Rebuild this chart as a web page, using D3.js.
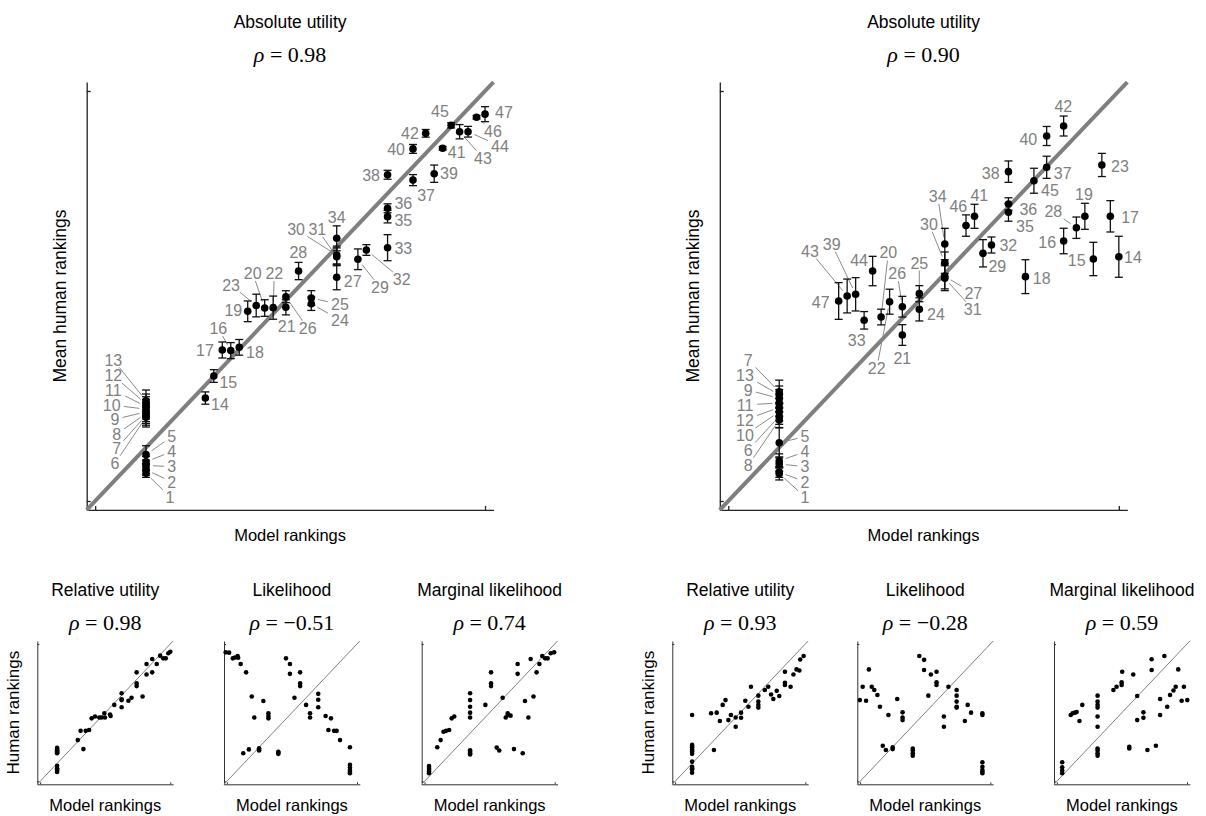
<!DOCTYPE html>
<html><head><meta charset="utf-8">
<script src="https://cdn.jsdelivr.net/npm/d3@7"></script>
<style>body{margin:0;background:#fff}</style>
</head><body>
<svg id="c" width="1206" height="816"></svg>
<script>
// ---------- DATA ----------
const bigTitles = ["Absolute utility", "Absolute utility"];
const bigRho = ["0.98", "0.90"];
const smallTitles = ["Relative utility", "Likelihood", "Marginal likelihood", "Relative utility", "Likelihood", "Marginal likelihood"];
const smallRho = ["0.98", "\u22120.51", "0.74", "0.93", "\u22120.28", "0.59"];
const tickVals = [1, 47];

// Experiment 1 (left): items 1..47
const leftModel = [7,7,7,7,7,7,7,7,7,7,7,7,7,14,15,17,16,18,19,21,23.5,22,20,26.5,26.5,23.5,29.5,25,32,29.5,29.5,33,35.5,29.5,35.5,35.5,38.5,35.5,41,38.5,42,40,44,45,43,46,47];
const leftHuman = [4.1,4.5,5.0,5.4,6.2,10.4,10.6,10.8,11.0,11.3,11.6,11.9,12.25,12.55,15.02,17.87,17.94,18.24,22.28,22.65,22.73,22.69,22.93,23.13,23.78,23.92,26.1,26.8,28.12,28.6,28.4,29.16,29.42,30.47,32.9,33.84,37.0,37.6,37.72,40.5,40.57,42.25,42.43,42.43,43.15,44.05,44.4];
const leftErr = [0.45,0.6,0.6,0.6,1.0,1.1,1.1,1.1,1.1,1.1,1.1,1.1,1.2,0.69,0.71,0.9,0.9,0.88,1.16,0.93,0.85,1.3,1.27,0.75,0.82,0.67,1.4,0.97,1.16,1.0,1.0,0.6,1.46,1.4,0.7,0.5,0.62,0.5,0.97,0.5,0.2,0.43,0.8,0.6,0.3,0.2,0.84];
// label anchor positions (in ranking units)
const leftLabelX = [9.83,10.03,10.03,10.03,10.03,3.34,3.54,3.54,3.34,2.95,3.14,3.14,3.14,15.73,16.71,15.53,13.96,19.86,17.3,19.59,23.6,22.14,17.03,29.89,29.89,26.08,31.39,24.97,34.61,24.7,27.21,37.17,37.36,29.5,37.36,37.36,40.04,33.55,42.75,36.5,43.66,38.15,46.76,48.76,41.69,47.94,49.24];
const leftLabelY = [1.45,3.15,4.85,6.53,8.21,5.23,6.91,8.52,10.17,11.77,13.45,15.06,16.82,11.88,14.32,20.37,17.94,17.64,22.35,26.55,20.55,26.55,25.23,21.3,23.05,20.37,25.6,28.86,24.97,31.48,31.48,25.87,29.35,32.83,32.53,34.4,35.33,37.5,37.72,40.46,40.08,42.25,39.48,40.83,44.68,42.51,44.64];
const leftLeaders = [1,2,3,4,5,6,7,8,9,10,11,12,13,16,20,22,23,24,25,26,29,30,31,32,43,44,46];

// Experiment 2 (right): items 1..47
const rightModel = [7,7,7,7,7,7,7,7,7,7,7,7,7,47,44,40.5,46,36,43,19,21.5,20,45,23.5,23.5,21.5,26.5,42,31,26.5,26.5,32,17,26.5,34,34,38.5,34,16,38.5,30,40.5,15,18,37,29,14];
const rightHuman = [4.06,4.25,5.15,5.49,7.54,10.5,13.26,10.1,12.5,11.0,12.0,11.5,12.9,28.4,28.15,30.17,32.94,26.17,32.94,21.64,19.62,23.36,38.7,22.5,24.26,22.8,26.2,31.66,28.79,27.74,26.0,29.72,21.27,29.83,33.39,34.32,38.44,37.95,24.19,41.95,32.94,43.07,24.0,26.8,36.93,31.9,23.44];
const rightErr = [0.7,0.6,0.8,0.8,1.7,0.9,1.3,0.9,1.0,1.0,1.0,1.0,1.0,2.3,1.87,1.43,1.76,1.9,1.46,0.88,1.16,1.4,1.3,1.3,0.9,1.16,1.4,1.2,1.53,1.2,1.4,0.9,0.98,1.76,1.0,0.7,1.24,1.2,1.87,1.07,1.35,1.12,1.9,1.65,1.4,1.2,2.06];
const rightLabelX = [10.04,10.04,10.04,10.04,10.04,3.36,3.36,3.36,3.36,2.97,2.97,2.97,2.97,48.67,42.04,38.57,48.32,37.92,42.9,19.85,21.5,18.48,47.14,25.46,23.5,20.9,29.86,39.28,32.69,24.64,29.79,33.98,16.12,25.67,35.95,36.34,40.39,31.91,13.18,36.34,30.57,40.46,10.62,16.4,38.89,28.09,11.88];
const rightLabelY = [1.45,3.15,4.85,6.53,8.21,6.72,16.82,5.0,13.45,8.4,11.77,10.09,15.14,28.37,28.04,30.02,32.86,25.98,35.44,28.86,17.01,15.89,38.58,21.95,27.73,26.55,24.3,33.46,27.36,32.08,22.51,29.64,19.06,35.22,31.77,33.73,37.76,37.76,29.83,41.61,35.3,45.32,29.05,28.04,35.81,34.02,23.25];
const rightLeaders = [1,2,3,4,5,6,7,8,9,10,11,12,13,20,22,25,26,27,28,30,31,34,39,43];

// Small panels: [model ranking, human ranking]
const relLeft = [[7,4.1],[7,4.5],[7,5.0],[7,5.4],[7,6.2],[7,10.4],[7,10.6],[7,10.8],[7,11.0],[7,11.3],[7,11.6],[7,11.9],[7,12.25],[16.3,11.8],[14.3,14.8],[15.3,17.9],[17.1,17.9],[18.3,18.2],[19.2,22.1],[20.4,22.7],[21.9,22.4],[22.7,22.4],[23.7,23.8],[23.9,22.4],[25.7,23.4],[25.9,22.9],[27.2,26.6],[29.8,30.5],[29.8,28.2],[29.8,28.5],[29.8,25.8],[32.2,28.0],[33.3,29.0],[35.1,37.5],[35.1,33.8],[35.1,32.9],[37.2,29.4],[38.6,40.3],[38.6,36.8],[40.6,42.0],[40.6,37.5],[42.2,40.3],[43.4,43.1],[44.5,42.2],[45.4,42.2],[46.3,43.9],[47,44.4]];
const likLeft = [[0.6,44.2],[1.8,44.1],[3.1,42.2],[3.9,42.5],[4.8,43.0],[5.0,42.4],[5.9,40.3],[7.8,37.5],[9.8,29.4],[10.7,22.4],[13.9,27.9],[15.7,23.8],[15.7,22.9],[15.7,22.1],[6.8,10.4],[8.8,11.7],[12.4,12.1],[12.4,11.6],[12.4,11.3],[19.2,10.9],[19.2,10.6],[19.2,10.2],[21.9,42.2],[23.3,40.3],[23.3,37.0],[24.9,29.0],[26.9,37.5],[26.9,33.8],[26.9,32.9],[29.0,26.6],[30.4,23.8],[30.4,22.4],[33.3,30.3],[33.3,28.3],[33.3,25.8],[35.9,22.9],[37.8,22.1],[36.9,18.2],[38.9,17.9],[39.8,17.9],[41.0,14.8],[44.5,12.4],[44.5,6.5],[44.5,5.6],[44.5,4.8],[44.5,4.2],[44.5,3.7]];
const margLeft = [[2.6,6.1],[2.6,5.5],[2.6,4.9],[2.6,4.3],[2.6,3.7],[5.5,12.4],[6.7,14.8],[7.7,17.6],[8.6,17.9],[9.7,18.2],[10.6,22.1],[11.5,22.7],[17.1,30.5],[17.1,28.2],[17.1,26.0],[17.1,24.0],[17.1,22.4],[17.1,11.4],[17.1,10.9],[17.1,10.4],[17.1,10.0],[22.5,26.6],[24.5,37.5],[24.5,33.8],[24.5,32.9],[26.5,12.3],[27.4,11.3],[28.6,29.0],[29.7,22.4],[30.4,23.8],[30.4,23.2],[31.4,23.0],[32.6,11.8],[35.7,10.4],[33.9,40.3],[33.9,37.0],[36.5,27.9],[37.7,22.4],[39.5,29.4],[38.5,42.0],[40.6,37.5],[41.6,40.3],[42.6,43.0],[43.6,42.2],[44.5,42.2],[45.6,43.9],[46.8,44.2]];
const relRight = [[7,23.2],[7,13.2],[7,12.8],[7,12.4],[7,11.7],[7,11.2],[7,10.9],[7,10.2],[7,7.6],[7,5.9],[7,5.4],[7,5.0],[7,3.9],[13.7,23.8],[15.7,24.0],[14.7,11.5],[16.8,21.2],[17.8,26.6],[18.8,28.2],[19.8,21.5],[20.7,23.2],[22.4,22.4],[22.4,19.3],[24.3,24.0],[24.3,22.3],[25.8,28.0],[26.9,26.0],[27.8,32.7],[30.4,29.7],[30.4,27.7],[30.4,26.6],[30.4,25.7],[32.7,31.6],[33.9,32.7],[34.9,30.1],[35.7,28.6],[36.9,31.3],[37.8,29.6],[39.8,37.7],[39.8,34.0],[39.8,33.3],[41.8,32.7],[42.8,36.8],[43.9,38.5],[44.9,38.1],[45.2,41.8],[46.4,43.0]];
const likRight = [[0.9,28.2],[3.1,28.0],[1.9,32.7],[4.1,38.5],[5.1,32.7],[6.0,31.6],[7.1,29.9],[8.0,26.0],[9.0,12.9],[10.1,11.5],[11.0,23.2],[12.5,12.4],[12.5,11.8],[14.1,28.6],[16.0,24.1],[16.0,22.4],[16.0,21.5],[19.6,12.0],[19.6,11.3],[19.6,10.4],[19.6,9.6],[21.9,43.0],[23.6,41.7],[23.6,38.3],[25.1,29.7],[26.0,36.8],[28.0,37.7],[28.0,34.2],[28.0,33.3],[30.6,22.7],[30.6,19.3],[32.2,32.7],[35.1,31.6],[35.1,29.7],[35.1,27.7],[35.1,26.0],[35.1,25.7],[38.0,21.2],[39.0,26.6],[40.2,24.0],[44.2,23.8],[44.2,23.2],[44.2,7.4],[44.2,5.9],[44.2,4.8],[44.2,4.2],[44.2,3.7]];
const margRight = [[2.9,7.4],[2.9,5.7],[2.9,4.6],[2.9,3.7],[5.9,23.2],[6.6,23.8],[7.4,24.0],[8.0,24.2],[9.0,21.2],[10.0,26.6],[15.4,29.7],[15.4,27.7],[15.4,26.6],[15.4,25.7],[15.4,22.7],[15.4,19.3],[15.4,12.0],[15.4,11.3],[15.4,10.4],[15.4,9.6],[21.0,31.6],[22.1,32.7],[23.9,34.2],[23.9,33.3],[24.1,37.7],[26.6,12.6],[26.6,12.0],[28.0,36.8],[29.4,29.6],[29.4,21.5],[31.6,24.1],[31.6,22.3],[33.0,11.5],[34.5,41.9],[34.5,38.3],[36.0,12.9],[37.5,28.6],[37.5,23.2],[39.0,43.0],[40.0,26.0],[41.0,29.9],[42.2,31.4],[43.0,32.7],[43.9,38.5],[45.1,28.0],[45.9,32.7],[47.1,28.2]];

// ---------- DRAWING ----------
const svg = d3.select("#c");
const sans = "'Liberation Sans', Arial, Helvetica, sans-serif";
const serif = "'Liberation Serif', 'DejaVu Serif', serif";

function rhoText(g, cx, cy, val, size) {
  const t = g.append("text").attr("x", cx).attr("y", cy).attr("text-anchor", "middle")
    .attr("font-family", serif).attr("font-size", size).attr("fill", "#000")
    .attr("xml:space", "preserve");
  t.append("tspan").attr("font-style", "italic").text("\u03C1");
  t.append("tspan").text(" = " + val);
}

function bigPlot(o) {
  const x = d3.scaleLinear().domain([0, 48]).range([o.left, o.left + 48 * o.kx]);
  const y = d3.scaleLinear().domain([0, 48]).range([o.bottom, o.bottom - 48 * o.ky]);
  const g = svg.append("g");
  const xa = d3.axisBottom(x).tickValues(tickVals).tickSizeInner(-4).tickSizeOuter(0).tickFormat("");
  const ya = d3.axisLeft(y).tickValues(tickVals).tickSizeInner(-4).tickSizeOuter(0).tickFormat("");
  g.append("g").attr("transform", `translate(0,${y(0)})`).call(xa);
  g.append("g").attr("transform", `translate(${x(0)},0)`).call(ya);
  g.selectAll(".domain, .tick line").attr("stroke", "#222").attr("stroke-width", 1.3);

  g.append("line").attr("x1", x(0)).attr("y1", y(0)).attr("x2", x(48)).attr("y2", y(48))
    .attr("stroke", "#7f7f7f").attr("stroke-width", 4);

  const items = o.model.map((m, i) => ({id: i + 1, m, h: o.human[i], e: o.err[i], lx: o.lx[i], ly: o.ly[i]}));
  const r = 3.8;
  items.filter(d => o.leaders.includes(d.id)).forEach(d => {
    const px = x(d.m), py = y(d.h), lx = x(d.lx), ly = y(d.ly);
    const dx = lx - px, dy = ly - py, dist = Math.hypot(dx, dy);
    const ux = dx / dist, uy = dy / dist;
    const hw = String(d.id).length * 4.6 + 1.5, hh = 6.3;
    const tb = Math.min(hw / Math.max(Math.abs(ux), 1e-6), hh / Math.max(Math.abs(uy), 1e-6));
    g.append("line")
      .attr("x1", px + ux * (r + 3)).attr("y1", py + uy * (r + 3))
      .attr("x2", lx - ux * (tb + 1.5)).attr("y2", ly - uy * (tb + 1.5))
      .attr("stroke", "#8a8a8a").attr("stroke-width", 1);
  });
  const eb = g.append("g").attr("stroke", "#111").attr("stroke-width", 1.3);
  items.forEach(d => {
    const px = x(d.m);
    eb.append("line").attr("x1", px).attr("x2", px).attr("y1", y(d.h - d.e)).attr("y2", y(d.h + d.e));
    eb.append("line").attr("x1", px - 4).attr("x2", px + 4).attr("y1", y(d.h - d.e)).attr("y2", y(d.h - d.e));
    eb.append("line").attr("x1", px - 4).attr("x2", px + 4).attr("y1", y(d.h + d.e)).attr("y2", y(d.h + d.e));
  });
  g.append("g").selectAll("circle").data(items).join("circle")
    .attr("cx", d => x(d.m)).attr("cy", d => y(d.h)).attr("r", r).attr("fill", "#000");
  g.append("g").selectAll("text").data(items).join("text")
    .attr("x", d => x(d.lx)).attr("y", d => y(d.ly)).attr("dy", "0.36em")
    .attr("text-anchor", "middle").attr("font-family", sans).attr("font-size", 16)
    .attr("fill", "#808080").text(d => d.id);

  const cx = (x(0) + x(48)) / 2;
  g.append("text").attr("x", cx).attr("y", 28).attr("text-anchor", "middle")
    .attr("font-family", sans).attr("font-size", 17.5).text(o.title);
  rhoText(g, cx, 62, o.rho, 22);
  g.append("text").attr("x", cx).attr("y", 541).attr("text-anchor", "middle")
    .attr("font-family", sans).attr("font-size", 16.5).text("Model rankings");
  g.append("text").attr("transform", `translate(${o.left - 21},${(y(0) + y(48)) / 2}) rotate(-90)`)
    .attr("text-anchor", "middle").attr("font-family", sans).attr("font-size", 17.5).text("Mean human rankings");
}

bigPlot({left: 86.7, kx: 8.475, bottom: 509.9, ky: 8.913, model: leftModel, human: leftHuman, err: leftErr,
  lx: leftLabelX, ly: leftLabelY, leaders: leftLeaders, title: bigTitles[0], rho: bigRho[0]});
bigPlot({left: 719.8, kx: 8.49, bottom: 509.9, ky: 8.913, model: rightModel, human: rightHuman, err: rightErr,
  lx: rightLabelX, ly: rightLabelY, leaders: rightLeaders, title: bigTitles[1], rho: bigRho[1]});

const smallData = [relLeft, likLeft, margLeft, relRight, likRight, margRight];
const smallLeft = [37.3, 224, 421.7, 672.3, 857.3, 1054];
smallData.forEach((pts, k) => {
  const x = d3.scaleLinear().domain([0, 48]).range([smallLeft[k], smallLeft[k] + 48 * 2.83]);
  const y = d3.scaleLinear().domain([0, 48]).range([784.3, 784.3 - 48 * 2.985]);
  const g = svg.append("g");
  const xa = d3.axisBottom(x).tickValues(tickVals).tickSizeInner(-2).tickSizeOuter(0).tickFormat("");
  const ya = d3.axisLeft(y).tickValues(tickVals).tickSizeInner(-2).tickSizeOuter(0).tickFormat("");
  g.append("g").attr("transform", `translate(0,${y(0)})`).call(xa);
  g.append("g").attr("transform", `translate(${x(0)},0)`).call(ya);
  g.selectAll(".domain, .tick line").attr("stroke", "#333").attr("stroke-width", 1);
  g.append("line").attr("x1", x(0)).attr("y1", y(0)).attr("x2", x(48)).attr("y2", y(48))
    .attr("stroke", "#7f7f7f").attr("stroke-width", 1);
  g.append("g").selectAll("circle").data(pts).join("circle")
    .attr("cx", d => x(d[0])).attr("cy", d => y(d[1])).attr("r", 2.3).attr("fill", "#000");
  const cx = (x(0) + x(48)) / 2;
  g.append("text").attr("x", cx).attr("y", 596).attr("text-anchor", "middle")
    .attr("font-family", sans).attr("font-size", 17.5).text(smallTitles[k]);
  rhoText(g, cx, 630, smallRho[k], 22);
  g.append("text").attr("x", cx).attr("y", 811).attr("text-anchor", "middle")
    .attr("font-family", sans).attr("font-size", 16.5).text("Model rankings");
  if (k === 0 || k === 3) {
    g.append("text").attr("transform", `translate(${x(0) - 18},${(y(0) + y(48)) / 2}) rotate(-90)`)
      .attr("text-anchor", "middle").attr("font-family", sans).attr("font-size", 17).text("Human rankings");
  }
});
</script>
</body></html>
